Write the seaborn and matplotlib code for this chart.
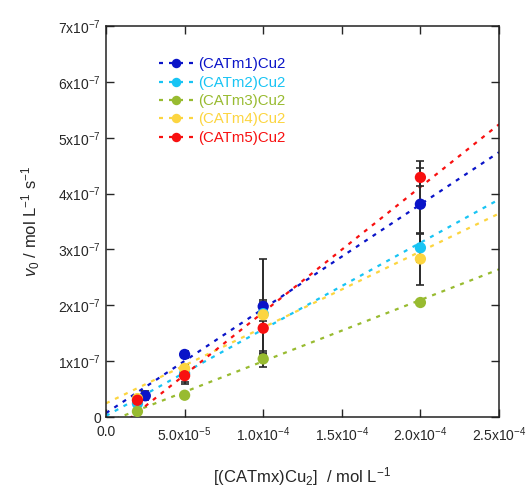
import numpy as np
import pandas as pd
import seaborn as sns
import matplotlib
matplotlib.use('Agg')
import matplotlib.pyplot as plt

# measured initial rates (in 1e-7 mol L-1 s-1) vs catalyst conc (mol L-1)
series_names = ['(CATm1)Cu2', '(CATm2)Cu2', '(CATm3)Cu2', '(CATm4)Cu2', '(CATm5)Cu2']
series_colors = ['#0a14c8', '#18c4f4', '#98bb30', '#fcd540', '#f81010']

conc_m1 = [2.5e-5, 5e-5, 1e-4, 2e-4]
conc_other = [2e-5, 5e-5, 1e-4, 2e-4]

rate_m1 = [0.38, 1.12, 1.98, 3.81]
rate_m2 = [0.24, 0.78, 1.85, 3.03]
rate_m3 = [0.10, 0.39, 1.04, 2.05]
rate_m4 = [0.33, 0.87, 1.83, 2.83]
rate_m5 = [0.30, 0.74, 1.59, 4.29]

err_m1 = [0.08, 0.06, 0.84, 0.77]
err_m2 = [0.03, 0.15, 0.25, 0.25]
err_m3 = [0.02, 0.03, 0.14, 0.05]
err_m4 = [0.03, 0.05, 0.12, 0.47]
err_m5 = [0.05, 0.15, 0.47, 0.16]

# linear fits: intercept (1e-7) and slope (1e-7 per 1e-4 M)
fit_intercept = [0.07, 0.02, -0.099, 0.245, -0.366]
fit_slope = [1.868, 1.55, 1.097, 1.359, 2.242]

x_ticks = [0, 5e-5, 1e-4, 1.5e-4, 2e-4, 2.5e-4]
x_ticklabels = ['0.0', r'5.0x10$^{-5}$', r'1.0x10$^{-4}$', r'1.5x10$^{-4}$',
                r'2.0x10$^{-4}$', r'2.5x10$^{-4}$']
y_ticks = [0, 1e-7, 2e-7, 3e-7, 4e-7, 5e-7, 6e-7, 7e-7]
y_ticklabels = ['0'] + [r'%dx10$^{-7}$' % i for i in range(1, 8)]

sns.set_style('ticks')
plt.rcParams['font.family'] = ['Liberation Sans', 'DejaVu Sans']
plt.rcParams['mathtext.fontset'] = 'custom'
plt.rcParams['mathtext.rm'] = 'Liberation Sans'
plt.rcParams['mathtext.it'] = 'Liberation Sans:italic'
plt.rcParams['mathtext.default'] = 'regular'

rows = []
all_conc = [conc_m1] + [conc_other] * 4
all_rate = [rate_m1, rate_m2, rate_m3, rate_m4, rate_m5]
all_err = [err_m1, err_m2, err_m3, err_m4, err_m5]
for name, xs, ys, es in zip(series_names, all_conc, all_rate, all_err):
    for x, y, e in zip(xs, ys, es):
        rows.append({'series': name, 'conc': x, 'rate': y * 1e-7, 'err': e * 1e-7})
df = pd.DataFrame(rows)

fit_rows = []
for name, b, m in zip(series_names, fit_intercept, fit_slope):
    for x in (0.0, 2.5e-4):
        fit_rows.append({'series': name, 'conc': x, 'rate': (b + m * x / 1e-4) * 1e-7})
fit_df = pd.DataFrame(fit_rows)

fig = plt.figure(figsize=(5.29, 4.87), dpi=100)
ax = fig.add_axes([0.2004, 0.1437, 0.7429, 0.8029])

palette = dict(zip(series_names, series_colors))
dash = (0, (1.8, 2.7))

for name in series_names:
    sub = fit_df[fit_df.series == name]
    sns.lineplot(data=sub, x='conc', y='rate', color=palette[name], lw=1.6,
                 linestyle=dash, ax=ax, legend=False, zorder=1)

for name in series_names:
    sub = df[df.series == name]
    ax.errorbar(sub.conc, sub.rate, yerr=sub.err, fmt='none', ecolor='#2a2a2a',
                elinewidth=1.4, capsize=3, capthick=1.2, zorder=2)

for name in series_names:
    sub = df[df.series == name]
    sns.scatterplot(data=sub, x='conc', y='rate', color=palette[name], s=66,
                    edgecolor='none', ax=ax, legend=False, zorder=3)

ax.set_xlim(0, 2.5e-4)
ax.set_ylim(0, 7e-7)
ax.set_xticks(x_ticks)
ax.set_xticklabels(x_ticklabels, fontsize=10)
ax.set_yticks(y_ticks)
ax.set_yticklabels(y_ticklabels, fontsize=10)
ax.tick_params(direction='in', length=6, width=1, top=True, right=True,
               labeltop=False, labelright=False)
ax.tick_params(axis='x', pad=6)
for sp in ax.spines.values():
    sp.set_linewidth(1.1)
    sp.set_color('#222222')

ax.set_xlabel(r'[(CATmx)Cu$_2$]  / mol L$^{-1}$', fontsize=12, labelpad=15)
ax.set_ylabel(r'$\mathit{v}_{0}$ / mol L$^{-1}$ s$^{-1}$', fontsize=12, labelpad=12)

# legend with dotted line + marker handles
handles = [plt.Line2D([], [], color=c, lw=1.6, linestyle=dash, marker='o',
                      markersize=6.8, markeredgewidth=0) for c in series_colors]
leg = ax.legend(handles, series_names, loc='upper left', bbox_to_anchor=(0.12, 0.935),
                frameon=False, fontsize=10.8, handlelength=2.3, handletextpad=0.3,
                labelspacing=0.29, borderaxespad=0)
for t, c in zip(leg.get_texts(), series_colors):
    t.set_color(c)

fig.savefig('out.png', dpi=100)
